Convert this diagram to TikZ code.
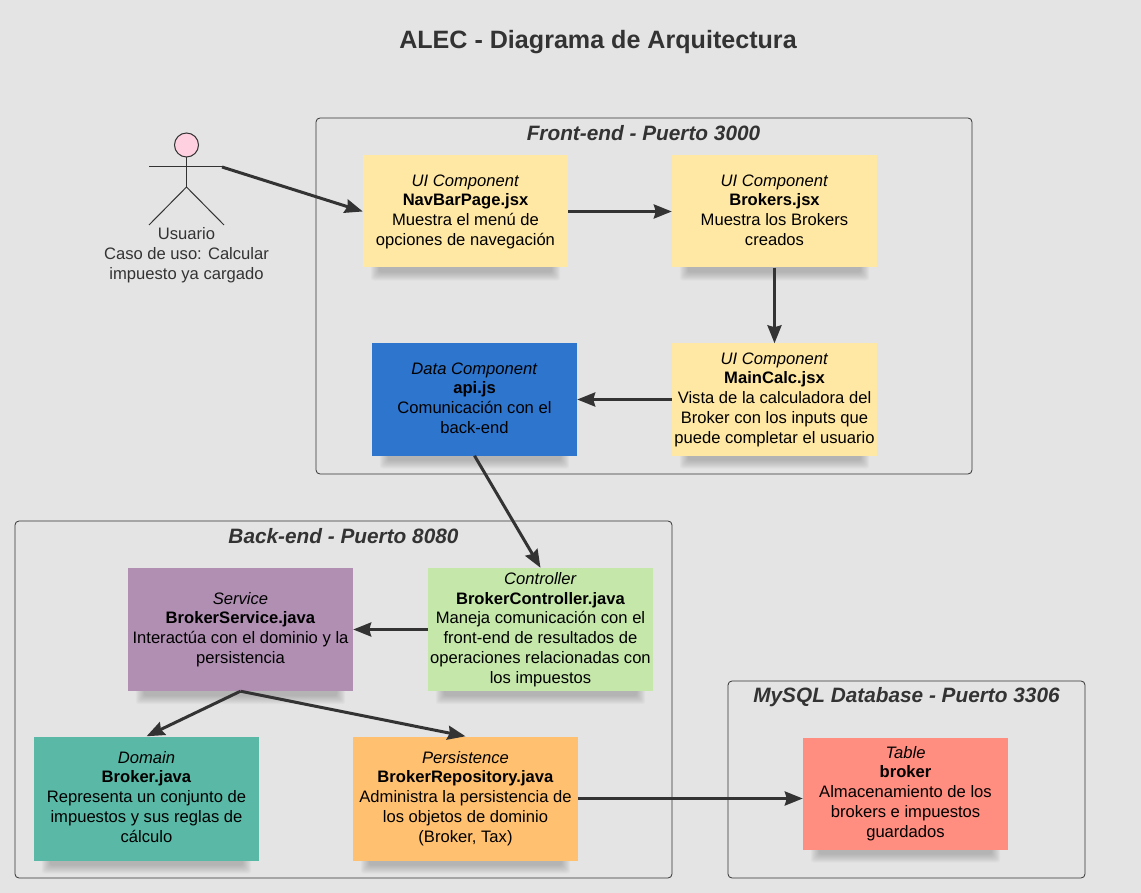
\documentclass[tikz,border=0pt]{standalone}
\usepackage{fontspec}
\setmainfont{Liberation Sans}
\usetikzlibrary{calc,arrows.meta,backgrounds}
\definecolor{bggray}{HTML}{E4E4E4}
\definecolor{inkgray}{HTML}{333333}
\definecolor{uiyellow}{HTML}{FFE8A3}
\definecolor{datablue}{HTML}{2E75CE}
\definecolor{svcpurple}{HTML}{B18FB3}
\definecolor{ctrlgreen}{HTML}{C5E8AA}
\definecolor{domteal}{HTML}{5AB9A6}
\definecolor{persorange}{HTML}{FFC170}
\definecolor{tablered}{HTML}{FF8D80}
\definecolor{headpink}{HTML}{FFD0DF}
\newcommand{\cardtext}[3]{\rule{0pt}{15pt}\textit{#1}\\\textbf{#2}\\#3\rule[-6.5pt]{0pt}{6.5pt}}
\tikzset{
	card/.style={minimum width=205pt,minimum height=112pt,inner sep=0pt,align=center,text=black,font=\fontsize{16.6}{19.8}\selectfont},
	widecard/.style={card,minimum width=225pt,minimum height=123pt},
	frame/.style={draw=inkgray,line width=0.8pt,rounded corners=4pt,inner sep=0pt},
	frametitle/.style={text=inkgray,font=\fontsize{20.8}{25}\selectfont\bfseries\itshape},
	link/.style={draw=inkgray,line width=3pt,-{Stealth[length=18pt,width=14pt,inset=2pt]}},
	limb/.style={draw=inkgray,line width=1pt}
}
\begin{document}
\begin{tikzpicture}[x=1pt,y=-1pt]
	\useasboundingbox (0,0) rectangle (1141,893);
	
	\node (title) at (598,42) [text=inkgray,font=\fontsize{25.1}{30}\selectfont\bfseries] {ALEC - Diagrama de Arquitectura};
	
	% frames
	\node (front) at (644,296) [frame,minimum width=656pt,minimum height=356pt] {};
	\node (back) at (343.5,699.5) [frame,minimum width=657pt,minimum height=357pt] {};
	\node (mysql) at (906.5,779.5) [frame,minimum width=357pt,minimum height=197pt] {};
	\node (fronttitle) at (643.5,133) [frametitle] {Front-end - Puerto 3000};
	\node (backtitle) at (343.5,536) [frametitle] {Back-end - Puerto 8080};
	\node (mysqltitle) at (906.5,697) [frametitle] {MySQL Database - Puerto 3306};
	
	% front-end
	\node (navbar) at (465.5,211.5) [card,fill=uiyellow] {\cardtext{UI Component}{NavBarPage.jsx}{Muestra el menú de\\opciones de navegación}};
	\node (brokers) at (774.5,211.5) [card,fill=uiyellow] {\cardtext{UI Component}{Brokers.jsx}{Muestra los Brokers\\creados}};
	\node (maincalc) at (774.5,399.5) [card,fill=uiyellow] {\cardtext{UI Component}{MainCalc.jsx}{Vista de la calculadora del\\Broker con los inputs que\\puede completar el usuario}};
	\node (api) at (474.5,399.5) [card,fill=datablue] {\cardtext{Data Component}{api.js}{Comunicación con el\\back-end}};
	
	% back-end
	\node (controller) at (540.5,629.5) [widecard,fill=ctrlgreen] {\cardtext{Controller}{BrokerController.java}{Maneja comunicación con el\\front-end de resultados de\\operaciones relacionadas con\\los impuestos}};
	\node (service) at (240.5,629.5) [widecard,fill=svcpurple] {\cardtext{Service}{BrokerService.java}{Interactúa con el dominio y la\\persistencia}};
	\node (domain) at (146.5,798.5) [widecard,minimum height=124pt,fill=domteal] {\cardtext{Domain}{Broker.java}{Representa un conjunto de\\impuestos y sus reglas de\\cálculo}};
	\node (persistence) at (465.5,798.5) [widecard,minimum height=124pt,fill=persorange] {\cardtext{Persistence}{BrokerRepository.java}{Administra la persistencia de\\los objetos de dominio\\(Broker, Tax)}};
	
	% database
	\node (table) at (905.5,793.5) [card,fill=tablered] {\cardtext{Table}{broker}{Almacenamiento de los\\brokers e impuestos\\guardados}};
	
	% actor
	\node (head) at (186.5,145) [circle,draw=inkgray,line width=1pt,fill=headpink,minimum size=24pt,inner sep=0pt] {};
	\coordinate (handl) at (149,167);
	\coordinate (handr) at (222,167);
	\coordinate (hip) at (186.5,187);
	\coordinate (footl) at (149,225);
	\coordinate (footr) at (224,225);
	\draw[limb] (head.south)--(hip);
	\draw[limb] (handl)--(handr);
	\draw[limb] (footl)--(hip)--(footr);
	\node (user) at (186.5,255.5) [text=inkgray,align=center,inner sep=0pt,font=\fontsize{16.6}{19.8}\selectfont] {Usuario\\Caso de uso: Calcular\\impuesto ya cargado};
	
	% connectors
	\draw[link] (handr)--(navbar.west);
	\draw[link] (navbar.east)--(brokers.west);
	\draw[link] (brokers.south)--(maincalc.north);
	\draw[link] (maincalc.west)--(api.east);
	\draw[link] (api.south)--(controller.north);
	\draw[link] (controller.west)--(service.east);
	\draw[link] (service.south)--(domain.north);
	\draw[link] (service.south)--(persistence.north);
	\draw[link] (persistence.east)--(persistence.east -| table.west);
	
	% page and soft shadows
	\begin{scope}[on background layer]
		\fill[bggray] (0,0) rectangle (1141,893);
		\foreach \n in {navbar,brokers,maincalc,api,controller,service,domain,persistence,table}
			\foreach \d in {0,...,8}
				\fill[black,opacity=.025,rounded corners=3pt] ($(\n.south west)+(8+\d,13-\d)$) rectangle ($(\n.south east)+(-8-\d,-3)$);
	\end{scope}
\end{tikzpicture}
\end{document}
